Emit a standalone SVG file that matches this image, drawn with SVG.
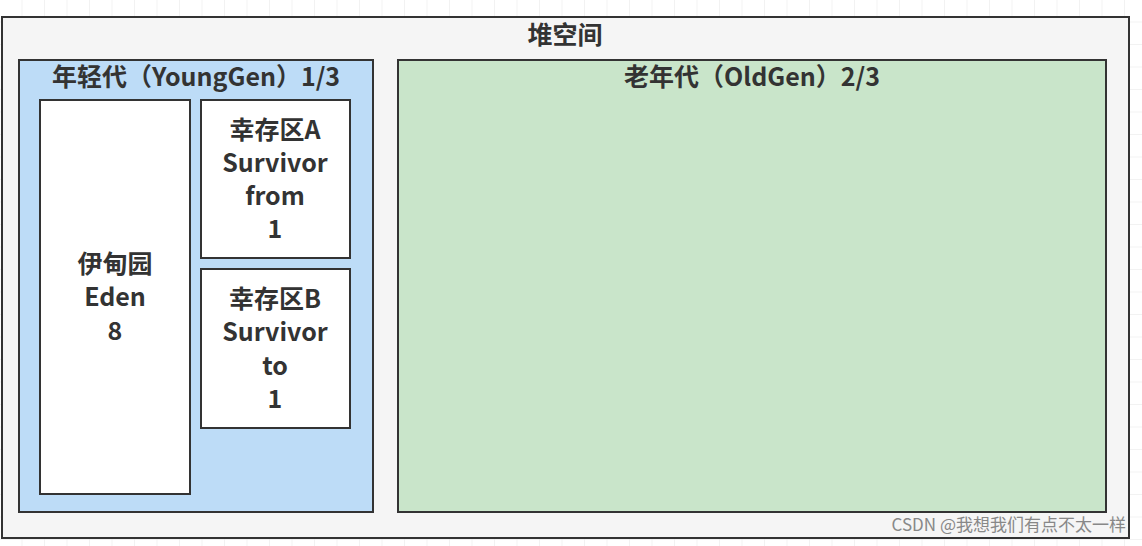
<svg xmlns="http://www.w3.org/2000/svg" width="1142" height="546" viewBox="0 0 1142 546">
<style>
.b{stroke:#333;stroke-width:2}
.t{font-family:"Noto Sans CJK SC","Noto Sans",sans-serif;font-weight:bold;font-size:25px;fill:#333;text-anchor:middle}
</style>
<defs><pattern id="g" width="22.5" height="22.5" patternUnits="userSpaceOnUse"><path d="M22.5 0V22.5H0" fill="none" stroke="#e6e6e6" stroke-width="1"/></pattern></defs>
<rect width="1142" height="546" fill="#fff"/>
<rect width="1142" height="546" fill="url(#g)"/>
<g id="heap"><rect x="2" y="17" width="1127" height="521" fill="#f5f5f5" class="b"/><text x="565" y="44" class="t">堆空间</text></g>
<g id="young"><rect x="19" y="60" width="354" height="452" fill="#bddcf7" class="b"/><text x="196" y="86" class="t">年轻代（YoungGen）1/3</text></g>
<g id="eden"><rect x="40" y="100" width="150" height="394" fill="#fff" class="b"/><text x="115" y="273" class="t">伊甸园</text><text x="115" y="306" class="t">Eden</text><text x="115" y="340" class="t">8</text></g>
<g id="survA"><rect x="201" y="100" width="149" height="158" fill="#fff" class="b"/><text x="275" y="139" class="t">幸存区A</text><text x="275" y="172" class="t">Survivor</text><text x="275" y="205" class="t">from</text><text x="275" y="238" class="t">1</text></g>
<g id="survB"><rect x="201" y="269" width="149" height="159" fill="#fff" class="b"/><text x="275" y="308" class="t">幸存区B</text><text x="275" y="341" class="t">Survivor</text><text x="275" y="375" class="t">to</text><text x="275" y="408" class="t">1</text></g>
<g id="old"><rect x="398" y="60" width="708" height="452" fill="#c9e5ca" class="b"/><text x="752" y="86" class="t">老年代（OldGen）2/3</text></g>
<g id="connectors"></g>
<text x="1126" y="531" style="font-family:'Noto Sans CJK SC','Noto Sans',sans-serif;font-size:17px;fill:#888;text-anchor:end">CSDN @我想我们有点不太一样</text>
</svg>
